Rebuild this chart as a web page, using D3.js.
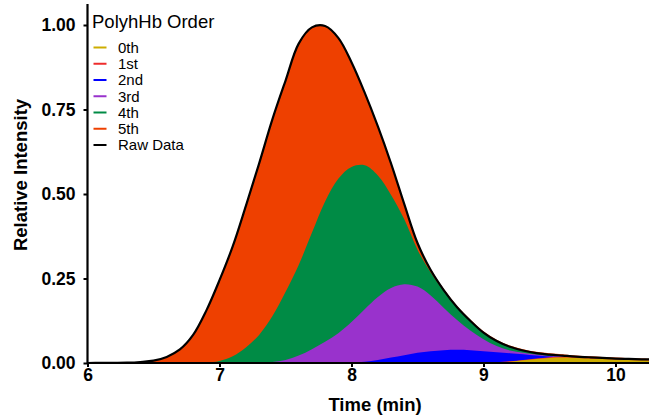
<!DOCTYPE html>
<html>
<head>
<meta charset="utf-8">
<script src="https://cdn.jsdelivr.net/npm/d3@7"></script>
<style>
  body { margin: 0; background: #fff; }
  svg { display: block; }
  text { font-family: "Liberation Sans", Arial, Helvetica, sans-serif; fill: #000; }
</style>
</head>
<body>
<svg id="chart" width="649" height="416"></svg>
<script>
// Retention time grid (min)
const time = [6.0, 6.1, 6.2, 6.3, 6.4, 6.5, 6.6, 6.7, 6.8, 6.9,
              7.0, 7.1, 7.2, 7.3, 7.4, 7.5, 7.6, 7.7, 7.8, 7.9,
              8.0, 8.1, 8.2, 8.3, 8.4, 8.5, 8.6, 8.7, 8.8, 8.9,
              9.0, 9.1, 9.2, 9.3, 9.4, 9.5, 9.6, 9.7, 9.8, 9.9,
              10.0, 10.1, 10.2, 10.3];

// Deconvolved contribution of each PolyhHb order (relative intensity)
const order0 = [0, 0, 0, 0, 0, 0, 0, 0, 0, 0,
                0, 0, 0, 0, 0, 0, 0, 0, 0, 0,
                0, 0, 0, 0, 0, 0, 0, 0, 0, 0,
                0.0005, 0.002, 0.004, 0.008, 0.012, 0.015, 0.016, 0.015, 0.013, 0.012,
                0.010, 0.009, 0.008, 0.007];
const order1 = [0, 0, 0, 0, 0, 0, 0, 0, 0, 0,
                0, 0, 0, 0, 0, 0, 0, 0, 0, 0,
                0, 0, 0, 0, 0, 0, 0, 0, 0, 0,
                0, 0, 0.001, 0.001, 0.001, 0.002, 0.003, 0.003, 0.003, 0.003,
                0.003, 0.003, 0.003, 0.003];
const order2 = [0, 0, 0, 0, 0, 0, 0, 0, 0, 0,
                0, 0, 0, 0, 0, 0, 0, 0, 0, 0.001,
                0.002, 0.004, 0.009, 0.016, 0.023, 0.030, 0.035, 0.038, 0.039, 0.038,
                0.0345, 0.030, 0.024, 0.017, 0.009, 0.002, 0, 0, 0, 0,
                0, 0, 0, 0];
const order3 = [0, 0, 0, 0, 0, 0, 0, 0, 0, 0,
                0, 0, 0, 0.001, 0.003, 0.009, 0.022, 0.041, 0.063, 0.087,
                0.119, 0.155, 0.186, 0.206, 0.210, 0.196, 0.165, 0.125, 0.088, 0.058,
                0.035, 0.018, 0.008, 0.004, 0.003, 0.002, 0.001, 0, 0, 0,
                0, 0, 0, 0];
const order4 = [0, 0, 0, 0, 0, 0, 0, 0, 0, 0.001,
                0.006, 0.020, 0.046, 0.082, 0.135, 0.201, 0.268, 0.344, 0.415, 0.457,
                0.459, 0.426, 0.360, 0.275, 0.192, 0.109, 0.068, 0.049, 0.037, 0.029,
                0.020, 0.015, 0.011, 0.007, 0.004, 0.004, 0.002, 0.001, 0.001, 0,
                0, 0, 0, 0];
const order5 = [0, 0.0002, 0.0005, 0.001, 0.003, 0.007, 0.018, 0.040, 0.083, 0.154,
                0.239, 0.325, 0.419, 0.507, 0.582, 0.625, 0.655, 0.608, 0.519, 0.417,
                0.310, 0.215, 0.145, 0.093, 0.045, 0.020, 0.011, 0.007, 0.005, 0.004,
                0.004, 0.004, 0.004, 0.004, 0.004, 0.004, 0.004, 0.003, 0.003, 0.003,
                0.003, 0.002, 0.002, 0.002];

// Measured chromatogram
const rawData = [0, 0.0002, 0.0005, 0.001, 0.003, 0.007, 0.018, 0.040, 0.083, 0.155,
                 0.245, 0.345, 0.465, 0.590, 0.720, 0.835, 0.945, 0.993, 0.997, 0.962,
                 0.890, 0.800, 0.700, 0.590, 0.470, 0.355, 0.275, 0.215, 0.165, 0.125,
                 0.090, 0.065, 0.048, 0.037, 0.029, 0.025, 0.022, 0.019, 0.017, 0.015,
                 0.013, 0.012, 0.011, 0.010];

const orderKeys = ["o0", "o1", "o2", "o3", "o4", "o5"];
const orderLabels = ["0th", "1st", "2nd", "3rd", "4th", "5th"];
const orderColors = ["#CDAD00", "#EE2C2C", "#0000FF", "#9932CC", "#008B45", "#EE4000"];
const rawLabel = "Raw Data";
const legendTitle = "PolyhHb Order";
const xTicks = [6, 7, 8, 9, 10];
const yTicks = [0, 0.25, 0.5, 0.75, 1];
const xTitle = "Time (min)";
const yTitle = "Relative Intensity";

const orderSeries = [order0, order1, order2, order3, order4, order5];
const rows = time.map((t, i) => {
  const r = { time: t, raw: rawData[i] };
  orderKeys.forEach((k, j) => { r[k] = orderSeries[j][i]; });
  return r;
});

const svg = d3.select("#chart");
const panel = { left: 87.5, right: 649, top: 5, bottom: 363 };

const x = d3.scaleLinear().domain([6, 10.254]).range([panel.left, panel.right]);
const y = d3.scaleLinear().domain([0, 1]).range([panel.bottom, 25]);

svg.append("defs").append("clipPath").attr("id", "panel-clip")
  .append("rect")
  .attr("x", panel.left).attr("y", panel.top)
  .attr("width", panel.right - panel.left).attr("height", panel.bottom - panel.top);

const plot = svg.append("g").attr("clip-path", "url(#panel-clip)");

// Cumulative fit: each order is stacked on the lower orders
const stacked = d3.stack().keys(orderKeys).order(d3.stackOrderNone).offset(d3.stackOffsetNone)(rows);

const smooth = d3.curveCatmullRom.alpha(0.5);

const area = d3.area()
  .curve(smooth)
  .x(d => x(d.data.time))
  .y0(y(0))
  .y1(d => y(d[1]));

// Paint from the highest order down so lower cumulative envelopes sit on top
stacked.slice().reverse().forEach(layer => {
  plot.append("path")
    .datum(layer)
    .attr("fill", orderColors[layer.index])
    .attr("d", area);
});

const rawLine = d3.line()
  .curve(smooth)
  .x(d => x(d.time))
  .y(d => y(d.raw));

plot.append("path")
  .datum(rows)
  .attr("fill", "none")
  .attr("stroke", "#000")
  .attr("stroke-width", 2.2)
  .attr("stroke-linejoin", "round")
  .attr("d", rawLine);

// Axes
const xAxis = d3.axisBottom(x).tickValues(xTicks).tickFormat(d3.format("d"))
  .tickSize(4).tickPadding(2);
const yAxis = d3.axisLeft(y).tickValues(yTicks).tickFormat(d3.format(".2f"))
  .tickSize(4).tickPadding(8);

const gx = svg.append("g").attr("transform", `translate(0,${panel.bottom})`).call(xAxis);
const gy = svg.append("g").attr("transform", `translate(${panel.left},0)`).call(yAxis);

[gx, gy].forEach(g => {
  g.select(".domain").remove();
  g.selectAll(".tick line").attr("stroke", "#000").attr("stroke-width", 2);
  g.selectAll(".tick text")
    .attr("fill", "#000")
    .style("font-size", "17.5px")
    .style("font-weight", "bold");
});

svg.append("path")
  .attr("d", `M${panel.left},${panel.top}V${panel.bottom}H${panel.right}`)
  .attr("fill", "none")
  .attr("stroke", "#000")
  .attr("stroke-width", 2.2)
  .attr("stroke-linecap", "square");

svg.append("text")
  .attr("x", 375)
  .attr("y", 411)
  .attr("text-anchor", "middle")
  .style("font-size", "18.5px")
  .style("font-weight", "bold")
  .text(xTitle);

svg.append("text")
  .attr("transform", `translate(27,175) rotate(-90)`)
  .attr("text-anchor", "middle")
  .style("font-size", "18.5px")
  .style("font-weight", "bold")
  .text(yTitle);

// Legend
const legend = svg.append("g").attr("transform", "translate(92,0)");
legend.append("text")
  .attr("x", 0).attr("y", 28)
  .style("font-size", "18.5px")
  .text(legendTitle);

const legendItems = orderLabels.map((label, i) => ({ label, color: orderColors[i] }))
  .concat([{ label: rawLabel, color: "#000" }]);

const item = legend.selectAll("g.item").data(legendItems).join("g")
  .attr("class", "item")
  .attr("transform", (d, i) => `translate(0,${47.5 + i * 16.25})`);

item.append("line")
  .attr("x1", 1.5).attr("x2", 14.5)
  .attr("y1", 0).attr("y2", 0)
  .attr("stroke", d => d.color)
  .attr("stroke-width", 2);

item.append("text")
  .attr("x", 26).attr("y", 0)
  .attr("dy", "0.36em")
  .style("font-size", "15px")
  .text(d => d.label);
</script>
</body>
</html>
